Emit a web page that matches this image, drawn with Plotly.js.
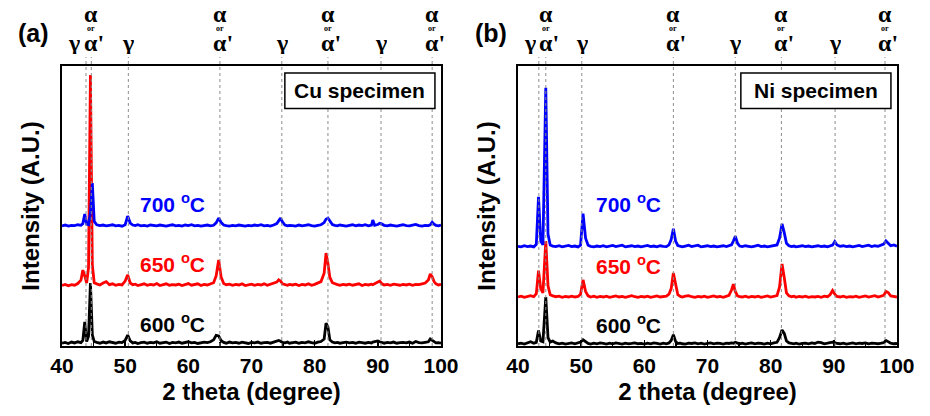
<!DOCTYPE html>
<html>
<head>
<meta charset="utf-8">
<script src="https://cdn.plot.ly/plotly-3.0.1.min.js"></script>
<style>html,body{margin:0;padding:0;background:#fff;}</style>
</head>
<body>
<div id="chart" style="width:930px;height:416px;"></div>
<script>
// ---- XRD patterns, Cu specimen: 2-theta (degree) and intensity (A.U.) ----
const twoThetaCu = [
  40, 40.5, 41, 41.5, 42, 42.5, 43, 43.3, 43.6, 43.9,
  44.2, 44.5, 44.8, 45.1, 45.5, 46, 46.5, 47, 47.5, 48,
  48.5, 49, 49.5, 50, 50.4, 50.8, 51.2, 51.6, 52, 52.5,
  53, 53.5, 54, 54.5, 55, 55.5, 56, 56.5, 57, 57.5,
  58, 58.5, 59, 59.5, 60, 60.5, 61, 61.5, 62, 62.5,
  63, 63.5, 64, 64.4, 64.8, 65.2, 65.6, 66, 66.5, 67,
  67.5, 68, 68.5, 69, 69.5, 70, 70.5, 71, 71.5, 72,
  72.5, 73, 73.5, 74, 74.3, 74.6, 74.9, 75.3, 75.7, 76,
  76.5, 77, 77.5, 78, 78.5, 79, 79.5, 80, 80.5, 81,
  81.5, 81.8, 82.1, 82.4, 82.8, 83.2, 83.6, 84, 84.5, 85,
  85.5, 86, 86.5, 87, 87.5, 88, 88.5, 89, 89.2, 89.5,
  90, 90.3, 90.6, 91, 91.5, 92, 92.5, 93, 93.5, 94,
  94.5, 95, 95.5, 96, 96.5, 97, 97.5, 98, 98.3, 98.6,
  98.9, 99.2, 99.6, 100
];
const cu600 = [
  1.0, 1.3, 0.9, 1.4, 1.1, 1.5, 1.2, 2.0, 8.6, 1.6,
  3.5, 22.5, 4.0, 1.6, 1.3, 1.0, 1.4, 1.1, 1.5, 1.2,
  1.0, 1.4, 1.2, 2.0, 3.9, 1.8, 1.1, 1.3, 0.9, 1.2,
  1.4, 1.0, 1.3, 1.1, 1.5, 1.0, 1.2, 1.4, 0.9, 1.3,
  1.1, 1.4, 1.0, 1.2, 1.5, 1.1, 1.3, 0.9, 1.2, 1.4,
  1.2, 1.5, 2.2, 3.8, 3.6, 1.9, 1.3, 1.0, 1.4, 1.1,
  1.3, 1.0, 1.4, 1.2, 0.9, 1.3, 1.1, 1.4, 1.0, 1.2,
  1.3, 1.0, 1.4, 1.6, 2.0, 1.7, 1.3, 1.1, 1.4, 1.0,
  1.2, 1.4, 1.0, 1.3, 1.1, 1.5, 1.2, 1.0, 1.4, 1.6,
  2.5, 8.2, 6.8, 2.2, 1.4, 1.1, 1.3, 1.0, 1.2, 1.4,
  1.1, 1.3, 1.0, 1.4, 1.2, 1.0, 1.3, 1.1, 1.4, 1.5,
  1.8, 1.5, 1.2, 1.0, 1.3, 1.1, 1.4, 1.0, 1.2, 1.3,
  1.1, 1.4, 1.0, 1.6, 1.2, 1.1, 1.3, 1.5, 2.5, 2.0,
  1.3, 1.1, 1.2, 1.0
];
const cu650 = [
  1.6, 2.0, 1.5, 1.9, 1.7, 2.3, 3.5, 7.1, 5.0, 2.5,
  8.0, 76.8, 9.0, 2.6, 2.2, 1.8, 2.5, 3.0, 1.9, 2.2,
  1.7, 2.0, 1.8, 3.2, 5.4, 2.5, 1.9, 2.1, 1.6, 2.0,
  2.2, 1.7, 2.0, 1.8, 2.3, 1.6, 2.0, 2.2, 1.7, 1.9,
  1.8, 2.1, 1.6, 2.0, 2.3, 1.7, 1.9, 2.2, 1.6, 2.0,
  1.8, 2.1, 2.6, 5.0, 10.7, 4.5, 2.3, 1.9, 2.1, 1.7,
  2.0, 1.8, 2.2, 1.6, 1.9, 2.1, 1.7, 2.0, 1.8, 2.2,
  1.7, 2.0, 2.3, 2.8, 3.6, 3.2, 2.2, 1.9, 1.7, 2.0,
  1.8, 2.1, 1.6, 2.0, 1.8, 2.2, 1.7, 2.0, 2.4, 3.0,
  6.0, 13.2, 9.5, 4.5, 2.6, 2.1, 1.9, 1.7, 2.0, 1.8,
  2.1, 1.7, 1.9, 2.2, 1.6, 2.0, 1.8, 2.1, 1.9, 2.2,
  2.8, 3.2, 2.3, 1.8, 2.0, 1.7, 2.1, 1.9, 1.7, 2.0,
  1.8, 2.1, 1.7, 2.0, 1.9, 2.2, 2.5, 3.6, 5.7, 4.8,
  3.0, 2.2, 1.8, 2.0
];
const cu700 = [
  1.4, 1.7, 1.3, 1.6, 1.5, 1.8, 1.6, 2.2, 5.6, 2.0,
  1.8, 6.0, 16.7, 3.0, 1.8, 1.5, 1.7, 1.4, 1.6, 1.8,
  1.4, 1.6, 1.3, 1.8, 4.9, 2.4, 1.7, 1.5, 1.8, 1.4,
  1.6, 1.3, 1.7, 1.5, 1.4, 1.7, 1.5, 1.3, 1.6, 1.8,
  1.4, 1.6, 1.3, 1.7, 1.5, 1.8, 1.4, 1.6, 1.3, 1.5,
  1.7, 1.4, 1.6, 2.5, 4.2, 2.6, 1.7, 1.5, 1.3, 1.6,
  1.4, 1.7, 1.5, 1.3, 1.6, 1.4, 1.7, 1.5, 1.8, 1.4,
  1.6, 1.3, 1.7, 2.2, 3.2, 4.2, 2.8, 1.7, 1.4, 1.6,
  1.5, 1.3, 1.7, 1.4, 1.6, 1.8, 1.5, 1.3, 1.6, 1.8,
  2.6, 3.8, 4.2, 3.0, 1.9, 1.6, 1.4, 1.7, 1.5, 1.3,
  1.6, 1.8, 1.4, 1.7, 1.5, 1.8, 1.4, 1.7, 3.5, 1.6,
  1.9, 2.3, 2.1, 1.6, 1.4, 1.7, 1.5, 1.3, 1.6, 1.8,
  1.5, 1.4, 1.7, 1.9, 1.5, 1.3, 1.6, 1.5, 1.8, 2.7,
  2.0, 1.6, 1.4, 1.7
];

// ---- XRD patterns, Ni specimen ----
const twoThetaNi = [
  40, 40.5, 41, 41.5, 42, 42.5, 42.9, 43.25, 43.6, 43.95,
  44.4, 44.75, 45.1, 45.5, 46, 46.5, 47, 47.5, 48, 48.5,
  49, 49.5, 49.9, 50.3, 50.7, 51.1, 51.5, 52, 52.5, 53,
  53.5, 54, 54.5, 55, 55.5, 56, 56.5, 57, 57.5, 58,
  58.5, 59, 59.5, 60, 60.5, 61, 61.5, 62, 62.5, 63,
  63.5, 63.9, 64.25, 64.6, 64.95, 65.3, 65.7, 66, 66.5, 67,
  67.5, 68, 68.5, 69, 69.5, 70, 70.5, 71, 71.5, 72,
  72.5, 73, 73.4, 73.8, 74.1, 74.4, 74.75, 75.1, 75.5, 76,
  76.5, 77, 77.5, 78, 78.5, 79, 79.5, 80, 80.5, 81,
  81.4, 81.8, 82.15, 82.5, 82.9, 83.3, 83.7, 84, 84.5, 85,
  85.5, 86, 86.5, 87, 87.5, 88, 88.5, 89, 89.4, 89.8,
  90.15, 90.5, 91, 91.5, 92, 92.5, 93, 93.5, 94, 94.5,
  95, 95.5, 96, 96.5, 97, 97.5, 97.9, 98.25, 98.6, 99,
  99.5, 100
];
const ni600 = [
  0.8, 1.0, 0.7, 1.2, 1.5, 1.0, 1.3, 5.5, 1.8, 1.5,
  17.5, 3.0, 1.4, 1.8, 1.1, 0.8, 1.0, 0.7, 0.9, 1.1,
  0.8, 1.0, 1.4, 2.2, 1.5, 0.9, 0.7, 1.0, 0.8, 1.1,
  0.9, 0.7, 1.0, 0.8, 1.1, 0.9, 0.7, 1.0, 0.8, 0.9,
  1.1, 0.8, 0.9, 0.7, 1.0, 0.8, 1.1, 0.9, 0.7, 1.0,
  0.8, 1.1, 2.0, 4.0, 1.6, 0.9, 1.0, 0.8, 0.7, 1.0,
  0.9, 1.1, 0.8, 1.0, 0.7, 0.9, 1.1, 0.8, 1.0, 0.9,
  0.7, 1.0, 0.9, 1.1, 1.0, 1.3, 1.1, 0.8, 1.0, 0.7,
  0.9, 1.1, 0.8, 1.0, 0.9, 0.7, 1.0, 0.8, 1.1, 1.3,
  3.0, 5.7, 4.5, 1.8, 1.1, 0.9, 0.8, 1.0, 0.7, 0.9,
  1.0, 0.8, 1.1, 0.9, 1.4, 1.2, 0.8, 1.0, 1.1, 1.4,
  1.2, 0.9, 0.8, 1.0, 0.7, 0.9, 1.1, 0.8, 1.0, 0.9,
  1.1, 0.8, 1.0, 0.9, 0.8, 1.0, 1.2, 2.0, 1.5, 1.0,
  0.8, 0.9
];
const ni650 = [
  1.0, 1.3, 0.9, 1.2, 1.5, 1.1, 2.2, 10.4, 4.0, 2.5,
  21.0, 5.0, 1.8, 1.4, 1.1, 1.3, 0.9, 1.2, 1.0, 1.3,
  1.0, 1.2, 2.0, 7.1, 3.0, 1.4, 1.0, 1.3, 0.9, 1.2,
  1.0, 1.3, 0.9, 1.1, 1.4, 1.0, 1.2, 0.9, 1.3, 1.5,
  1.1, 0.9, 1.2, 1.0, 1.3, 0.9, 1.1, 1.4, 1.0, 1.2,
  1.3, 2.0, 4.0, 9.6, 6.0, 1.8, 1.2, 1.0, 1.3, 1.5,
  1.1, 0.9, 1.2, 1.0, 1.3, 0.9, 1.1, 1.4, 1.0, 1.2,
  0.9, 1.2, 1.6, 3.5, 5.6, 3.0, 1.4, 1.1, 1.0, 1.3,
  0.9, 1.2, 1.0, 1.3, 0.9, 1.1, 1.4, 1.0, 1.2, 1.5,
  4.5, 12.8, 8.0, 2.5, 1.4, 1.1, 1.3, 0.9, 1.2, 1.0,
  1.3, 0.9, 1.1, 1.0, 1.2, 0.9, 1.3, 1.1, 1.8, 3.3,
  2.0, 1.2, 1.0, 1.3, 0.9, 1.1, 1.0, 1.3, 0.9, 1.2,
  1.4, 1.0, 1.2, 1.5, 1.0, 1.2, 1.6, 3.0, 2.6, 1.4,
  1.1, 1.0
];
const ni700 = [
  1.1, 0.9, 1.3, 1.0, 1.2, 0.9, 1.8, 18.8, 3.0, 1.6,
  57.7, 5.5, 1.6, 1.2, 1.0, 1.3, 0.9, 1.1, 1.4, 1.0,
  1.2, 0.9, 1.5, 12.8, 4.0, 1.5, 1.1, 0.9, 1.2, 1.0,
  1.3, 0.9, 1.1, 1.4, 1.0, 1.2, 1.5, 0.9, 1.1, 1.3,
  1.0, 1.2, 0.9, 1.1, 1.4, 1.0, 1.2, 0.9, 1.3, 1.1,
  1.0, 1.6, 3.5, 7.4, 3.0, 1.4, 1.1, 0.9, 1.2, 1.5,
  1.0, 1.2, 1.5, 0.9, 1.1, 1.3, 1.0, 1.2, 0.9, 1.1,
  1.3, 1.0, 1.2, 1.6, 3.0, 4.7, 2.2, 1.2, 1.0, 1.3,
  1.1, 0.9, 1.2, 1.5, 1.0, 1.2, 0.9, 1.1, 1.3, 1.6,
  4.0, 9.1, 6.0, 2.2, 1.3, 1.0, 1.2, 0.9, 1.1, 1.3,
  1.0, 1.2, 0.9, 1.1, 1.3, 1.0, 1.2, 0.9, 1.1, 1.5,
  2.8, 1.6, 1.1, 1.3, 1.0, 1.2, 0.9, 1.1, 1.4, 1.0,
  1.2, 1.5, 1.0, 1.3, 1.1, 1.6, 1.9, 3.0, 2.2, 1.3,
  1.6, 1.1
];

// annealing temperatures and vertical stacking offsets of each pattern
const temperatures = ['600', '650', '700'];
const stackOffsetCu = [0, 20, 41.5];
const stackOffsetNi = [0, 16.5, 34.5];

// reference reflections: gamma (austenite) and alpha / alpha' (ferrite / martensite)
const reflectionPhase = ['γ', 'α', 'γ', 'α', 'γ', 'α', 'γ', 'α'];
const reflectionCu = [43.8, 44.64, 50.5, 65.0, 74.8, 82.1, 90.5, 98.6];
const reflectionNi = [43.3, 44.4, 50.1, 64.6, 74.4, 81.7, 90.2, 98.1];

const colors = ['#000000', '#ff0000', '#0000ff'];
const SANS = 'Liberation Sans, Arial, sans-serif';
const SERIF = 'Liberation Serif, Times New Roman, serif';

const panels = [
  {x: twoThetaCu, ys: [cu600, cu650, cu700], off: stackOffsetCu, refl: reflectionCu,
   xa: 'x', ya: 'y', name: 'Cu specimen', tag: '(a)', firstShift: -12},
  {x: twoThetaNi, ys: [ni600, ni650, ni700], off: stackOffsetNi, refl: reflectionNi,
   xa: 'x2', ya: 'y2', name: 'Ni specimen', tag: '(b)', firstShift: -9}
];

const traces = [];
const shapes = [];
const annotations = [];

// label heights (paper units) for temperatures, per panel
const tempY = [[0.082, 0.296, 0.511], [0.079, 0.289, 0.511]];
const tagX = [-0.0347, 0.5138];

panels.forEach((p, pi) => {
  p.ys.forEach((y, i) => {
    traces.push({
      x: p.x, y: y.map(v => v + p.off[i]),
      xaxis: p.xa, yaxis: p.ya, type: 'scatter', mode: 'lines',
      line: {color: colors[i], width: 2.8}, hoverinfo: 'skip'
    });
    annotations.push({
      xref: p.xa + ' domain', yref: 'paper', x: 0.292, y: tempY[pi][i],
      text: temperatures[i] + ' <sup>o</sup>C', showarrow: false,
      xanchor: 'center', yanchor: 'middle',
      font: {family: SANS, size: 21, weight: 'bold', color: colors[i]}
    });
  });

  // dotted reflection markers and their phase labels
  p.refl.forEach((pos, k) => {
    shapes.push({
      type: 'line', xref: p.xa, yref: 'paper', x0: pos, x1: pos, y0: 0, y1: 1.032,
      line: {color: '#8c8c8c', width: 1, dash: 'dot'}, layer: 'above'
    });
    const f = {family: SERIF, size: 24, weight: 'bold', color: '#000'};
    if (reflectionPhase[k] === 'γ') {
      annotations.push({xref: p.xa, yref: 'paper', x: pos, y: 1.082, text: 'γ',
        showarrow: false, xanchor: 'center', yanchor: 'middle', font: f,
        height: 22, borderpad: 0, xshift: k === 0 ? p.firstShift : 0});
    } else {
      annotations.push({xref: p.xa, yref: 'paper', x: pos, y: 1.186, text: 'α',
        showarrow: false, xanchor: 'center', yanchor: 'middle', font: f,
        height: 16, borderpad: 0});
      annotations.push({xref: p.xa, yref: 'paper', x: pos, y: 1.134, text: 'or',
        showarrow: false, xanchor: 'center', yanchor: 'middle', height: 8, borderpad: 0,
        font: {family: SERIF, size: 8, weight: 'bold', color: '#000'}});
      annotations.push({xref: p.xa, yref: 'paper', x: pos, y: 1.082, text: "α'",
        showarrow: false, xanchor: 'center', yanchor: 'middle', xshift: 3, font: f,
        height: 18, borderpad: 0});
    }
  });

  // specimen box
  shapes.push({
    type: 'rect', xref: p.xa + ' domain', yref: 'paper',
    x0: 0.588, x1: 0.984, y0: 0.848, y1: 0.975,
    line: {color: '#000', width: 1.5}, fillcolor: '#fff', layer: 'above'
  });
  annotations.push({
    xref: p.xa + ' domain', yref: 'paper', x: 0.786, y: 0.911, text: p.name,
    showarrow: false, xanchor: 'center', yanchor: 'middle',
    font: {family: SANS, size: 21, weight: 'bold', color: '#000'}
  });

  // panel tag
  annotations.push({
    xref: 'paper', yref: 'paper', x: tagX[pi], y: 1.118, text: p.tag,
    showarrow: false, xanchor: 'center', yanchor: 'middle',
    font: {family: SANS, size: 25, weight: 'bold', color: '#000'}
  });
});

function xAxis(domain, anchor) {
  return {
    domain: domain, anchor: anchor, range: [40, 100],
    tickmode: 'linear', tick0: 40, dtick: 10,
    ticks: 'inside', ticklen: 6, tickwidth: 1.5, tickcolor: '#000',
    minor: {dtick: 5, ticks: 'inside', ticklen: 4, tickwidth: 1.2, tickcolor: '#000'},
    showline: true, mirror: true, linecolor: '#000', linewidth: 1.6,
    showgrid: false, zeroline: false,
    tickfont: {family: SANS, size: 21, weight: 'bold', color: '#000'},
    title: {text: '2 theta (degree)', standoff: 7,
            font: {family: SANS, size: 24, weight: 'bold', color: '#000'}}
  };
}
function yAxis(anchor) {
  return {
    anchor: anchor, domain: [0, 1], range: [0, 100],
    showline: true, mirror: true, linecolor: '#000', linewidth: 1.6,
    ticks: '', showticklabels: false, showgrid: false, zeroline: false,
    title: {text: 'Intensity (A.U.)', standoff: 14,
            font: {family: SANS, size: 24, weight: 'bold', color: '#000'}}
  };
}

const layout = {
  width: 930, height: 416,
  margin: {l: 62, r: 33, t: 66, b: 70},
  paper_bgcolor: '#fff', plot_bgcolor: '#fff',
  showlegend: false,
  xaxis: xAxis([0, 0.4539], 'y'),
  xaxis2: xAxis([0.5461, 1], 'y2'),
  yaxis: yAxis('x'),
  yaxis2: yAxis('x2'),
  shapes: shapes,
  annotations: annotations
};

Plotly.newPlot('chart', traces, layout, {staticPlot: true, displayModeBar: false});
</script>
</body>
</html>
